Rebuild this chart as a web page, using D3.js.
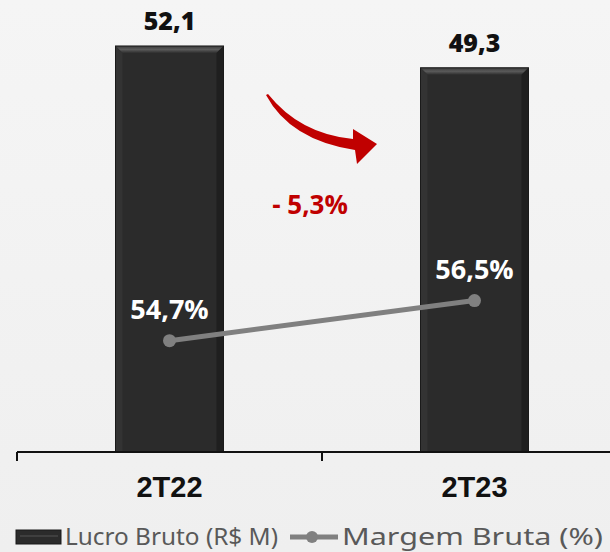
<!DOCTYPE html>
<html><head><meta charset="utf-8">
<script src="https://cdn.jsdelivr.net/npm/d3@7"></script>
<style>html,body{margin:0;padding:0;background:#f3f3f3;overflow:hidden}</style>
</head><body><svg id="c" width="610" height="552"></svg>
<script>
const categories = ["2T22", "2T23"];
const lucroBruto = [52.1, 49.3];
const margemBruta = [54.7, 56.5];
const barLabels = ["52,1", "49,3"];
const marginLabels = ["54,7%", "56,5%"];
const variationLabel = "- 5,3%";
const legendLabels = ["Lucro Bruto (R$ M)", "Margem Bruta (%)"];

const svg = d3.select("#c");
const defs = svg.append("defs");
const bg = defs.append("linearGradient").attr("id","bg").attr("x1",0).attr("x2",0).attr("y1",0).attr("y2",1);
bg.append("stop").attr("offset","0").attr("stop-color","#f5f5f5");
bg.append("stop").attr("offset","1").attr("stop-color","#efefef");
svg.append("rect").attr("width",610).attr("height",552).attr("fill","url(#bg)");

const topG = defs.append("linearGradient").attr("id","bevTop").attr("x1",0).attr("x2",0).attr("y1",0).attr("y2",1);
topG.append("stop").attr("offset","0").attr("stop-color","#3a3a3a");
topG.append("stop").attr("offset","0.5").attr("stop-color","#5a5a5a");
topG.append("stop").attr("offset","1").attr("stop-color","#2e2e2e");

const x = d3.scaleBand().domain(categories).range([17, 627]).paddingInner(0).paddingOuter(0);
const y = d3.scaleLinear().domain([0, 58]).range([452, 0]);
const y2 = d3.scaleLinear().domain([49.7, 70]).range([452, 0]);
const barW = 108;
const cx = d => x(d) + x.bandwidth()/2;
const boldFont = "'Open Sans', sans-serif";

// bars
const bars = svg.append("g");
categories.forEach((c,i) => {
  const x0 = cx(c) - barW/2, y0 = y(lucroBruto[i]), h = y(0) - y0, b = 7;
  const g = bars.append("g");
  g.append("rect").attr("x",x0).attr("y",y0).attr("width",barW).attr("height",h).attr("fill","#2b2b2b");
  g.append("polygon").attr("points",`${x0},${y0} ${x0+barW},${y0} ${x0+barW-b},${y0+b} ${x0+b},${y0+b}`).attr("fill","url(#bevTop)");
  g.append("polygon").attr("points",`${x0},${y0} ${x0+b},${y0+b} ${x0+b},${y0+h} ${x0},${y0+h}`).attr("fill","#333");
  g.append("polygon").attr("points",`${x0+barW},${y0} ${x0+barW-b},${y0+b} ${x0+barW-b},${y0+h} ${x0+barW},${y0+h}`).attr("fill","#1f1f1f");
  g.append("rect").attr("x",x0).attr("y",y0).attr("width",barW).attr("height",h).attr("fill","none").attr("stroke","#1a1a1a").attr("stroke-width",1);
  svg.append("text").attr("x",cx(c)).attr("y",y0-16).attr("text-anchor","middle")
    .attr("font-family",boldFont).attr("font-weight",800).attr("font-size",25).attr("fill","#111").text(barLabels[i]);
});

// axis
const axisG = svg.append("g").attr("transform","translate(0,452)");
axisG.append("line").attr("x1",17).attr("x2",627).attr("y1",0).attr("y2",0).attr("stroke","#111").attr("stroke-width",2);
[17, 322, 627].forEach(t => axisG.append("line").attr("x1",t).attr("x2",t).attr("y1",0).attr("y2",9).attr("stroke","#111").attr("stroke-width",2));
categories.forEach(c => axisG.append("text").attr("x",cx(c)).attr("y",45).attr("text-anchor","middle")
  .attr("font-family","'Liberation Sans Narrow', 'Arial Narrow', sans-serif").attr("font-weight","bold").attr("font-size",29).attr("fill","#111").text(c));

// line
const line = d3.line().x((d,i)=>cx(categories[i])).y(d=>y2(d));
svg.append("path").datum(margemBruta).attr("d",line).attr("fill","none").attr("stroke","#808080").attr("stroke-width",5);
svg.selectAll("circle.m").data(margemBruta).enter().append("circle").attr("class","m")
  .attr("cx",(d,i)=>cx(categories[i])).attr("cy",d=>y2(d)).attr("r",6.5).attr("fill","#808080");
marginLabels.forEach((l,i) => svg.append("text").attr("x",cx(categories[i])).attr("y",y2(margemBruta[i])-22)
  .attr("text-anchor","middle").attr("font-family",boldFont).attr("font-weight","bold").attr("font-size",27).attr("fill","#fff").text(l));

// arrow
svg.append("path").attr("d","M266,95 Q290,140 355,150 L357,164 L377,144 L353,129 L353,139 Q300,134 268,94 Z").attr("fill","#c00000");
svg.append("text").attr("x",310).attr("y",214).attr("text-anchor","middle").attr("font-family",boldFont)
  .attr("font-weight","bold").attr("font-size",26).attr("fill","#c00000").text(variationLabel);

// legend
const lg = svg.append("g");
lg.append("rect").attr("x",16).attr("y",530).attr("width",45).attr("height",14).attr("fill","#2b2b2b").attr("stroke","#1a1a1a");
lg.append("line").attr("x1",20).attr("x2",58).attr("y1",536).attr("y2",536).attr("stroke","#555").attr("stroke-width",1);
lg.append("text").attr("x",65).attr("y",545).attr("font-family","'Noto Sans', sans-serif").attr("font-size",24)
  .attr("textLength",213).attr("lengthAdjust","spacingAndGlyphs").attr("fill","#595959").text(legendLabels[0]);
lg.append("line").attr("x1",290).attr("x2",338).attr("y1",537).attr("y2",537).attr("stroke","#808080").attr("stroke-width",5);
lg.append("circle").attr("cx",312).attr("cy",537).attr("r",6).attr("fill","#808080");
lg.append("text").attr("x",342).attr("y",545).attr("font-family","'Noto Sans', sans-serif").attr("font-size",24)
  .attr("textLength",261).attr("lengthAdjust","spacingAndGlyphs").attr("fill","#595959").text(legendLabels[1]);
</script></body></html>
